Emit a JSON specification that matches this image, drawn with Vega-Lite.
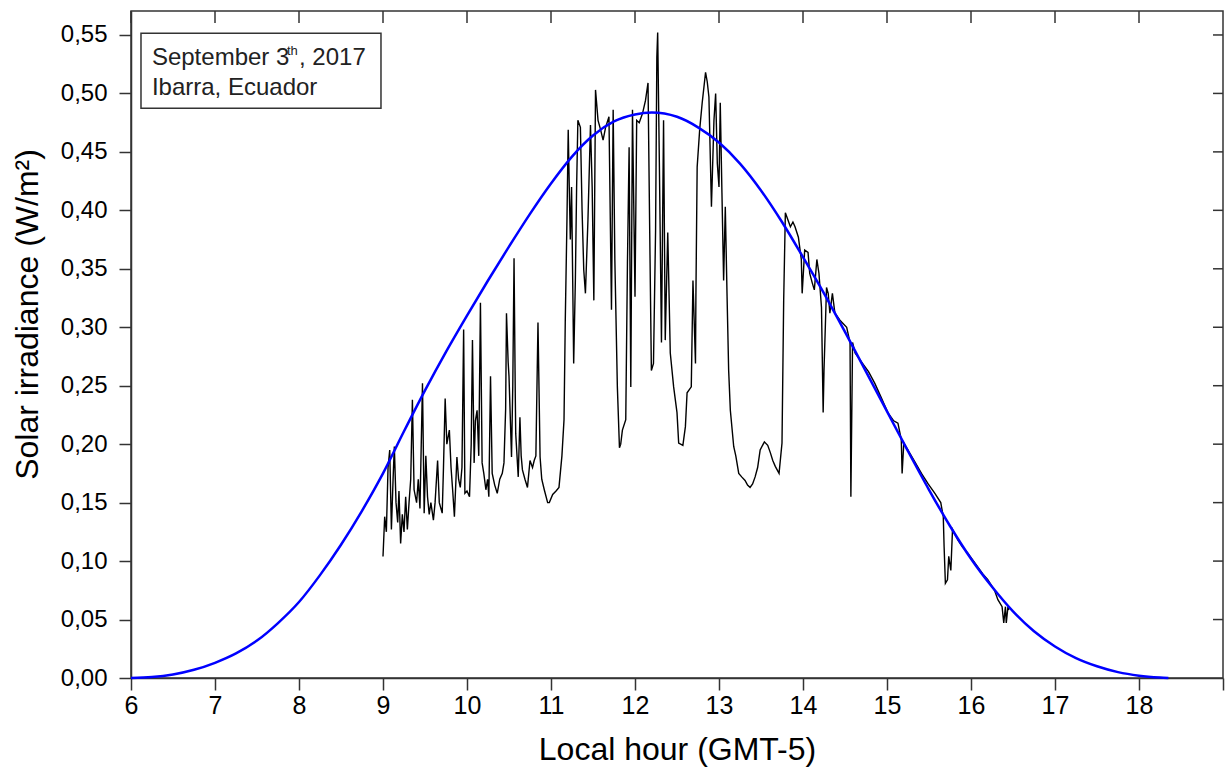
{
"$schema": "https://vega.github.io/schema/vega-lite/v6.json",
"width": 1092, "height": 667,
"autosize": "none",
"padding": {"left": 131, "top": 11, "right": 2, "bottom": 91},
"background": "white",
"config": {"view": {"stroke": "#333333", "strokeWidth": 1.5}, "font": "Liberation Sans"},
"datasets": {
"xticks": [{"hour":6},{"hour":7},{"hour":8},{"hour":9},{"hour":10},{"hour":11},{"hour":12},{"hour":13},{"hour":14},{"hour":15},{"hour":16},{"hour":17},{"hour":18}],
"yticks": [{"irradiance":0.05},{"irradiance":0.1},{"irradiance":0.15},{"irradiance":0.2},{"irradiance":0.25},{"irradiance":0.3},{"irradiance":0.35},{"irradiance":0.4},{"irradiance":0.45},{"irradiance":0.5},{"irradiance":0.55}],
"measured": [
{"hour":9.00,"irradiance":0.104},{"hour":9.02,"irradiance":0.138},{"hour":9.04,"irradiance":0.125},{"hour":9.06,"irradiance":0.180},{"hour":9.08,"irradiance":0.195},{"hour":9.10,"irradiance":0.127},{"hour":9.12,"irradiance":0.170},{"hour":9.135,"irradiance":0.198},{"hour":9.155,"irradiance":0.150},{"hour":9.175,"irradiance":0.133},{"hour":9.19,"irradiance":0.160},{"hour":9.21,"irradiance":0.115},{"hour":9.23,"irradiance":0.140},{"hour":9.25,"irradiance":0.125},{"hour":9.27,"irradiance":0.155},{"hour":9.29,"irradiance":0.127},{"hour":9.31,"irradiance":0.150},{"hour":9.33,"irradiance":0.170},{"hour":9.35,"irradiance":0.238},{"hour":9.37,"irradiance":0.161},{"hour":9.40,"irradiance":0.150},{"hour":9.42,"irradiance":0.170},{"hour":9.44,"irradiance":0.145},{"hour":9.47,"irradiance":0.252},{"hour":9.49,"irradiance":0.141},{"hour":9.51,"irradiance":0.190},{"hour":9.53,"irradiance":0.155},{"hour":9.55,"irradiance":0.140},{"hour":9.57,"irradiance":0.150},{"hour":9.60,"irradiance":0.135},{"hour":9.62,"irradiance":0.150},{"hour":9.65,"irradiance":0.186},{"hour":9.67,"irradiance":0.150},{"hour":9.705,"irradiance":0.141},{"hour":9.72,"irradiance":0.180},{"hour":9.74,"irradiance":0.239},{"hour":9.76,"irradiance":0.200},{"hour":9.79,"irradiance":0.212},{"hour":9.81,"irradiance":0.180},{"hour":9.83,"irradiance":0.160},{"hour":9.85,"irradiance":0.138},{"hour":9.88,"irradiance":0.189},{"hour":9.90,"irradiance":0.170},{"hour":9.92,"irradiance":0.163},{"hour":9.94,"irradiance":0.180},{"hour":9.96,"irradiance":0.298},{"hour":9.975,"irradiance":0.158},{"hour":10.00,"irradiance":0.160},{"hour":10.03,"irradiance":0.155},{"hour":10.05,"irradiance":0.200},{"hour":10.065,"irradiance":0.289},{"hour":10.085,"irradiance":0.184},{"hour":10.10,"irradiance":0.220},{"hour":10.12,"irradiance":0.229},{"hour":10.14,"irradiance":0.190},{"hour":10.16,"irradiance":0.321},{"hour":10.18,"irradiance":0.184},{"hour":10.20,"irradiance":0.175},{"hour":10.225,"irradiance":0.161},{"hour":10.245,"irradiance":0.170},{"hour":10.26,"irradiance":0.155},{"hour":10.28,"irradiance":0.258},{"hour":10.30,"irradiance":0.175},{"hour":10.33,"irradiance":0.165},{"hour":10.36,"irradiance":0.158},{"hour":10.39,"irradiance":0.170},{"hour":10.42,"irradiance":0.175},{"hour":10.44,"irradiance":0.184},{"hour":10.46,"irradiance":0.230},{"hour":10.47,"irradiance":0.312},{"hour":10.49,"irradiance":0.270},{"hour":10.50,"irradiance":0.258},{"hour":10.53,"irradiance":0.189},{"hour":10.545,"irradiance":0.250},{"hour":10.56,"irradiance":0.359},{"hour":10.575,"irradiance":0.240},{"hour":10.58,"irradiance":0.209},{"hour":10.61,"irradiance":0.172},{"hour":10.63,"irradiance":0.223},{"hour":10.645,"irradiance":0.190},{"hour":10.66,"irradiance":0.178},{"hour":10.69,"irradiance":0.170},{"hour":10.72,"irradiance":0.163},{"hour":10.75,"irradiance":0.186},{"hour":10.78,"irradiance":0.180},{"hour":10.80,"irradiance":0.186},{"hour":10.82,"irradiance":0.190},{"hour":10.845,"irradiance":0.304},{"hour":10.87,"irradiance":0.189},{"hour":10.89,"irradiance":0.170},{"hour":10.92,"irradiance":0.161},{"hour":10.96,"irradiance":0.150},{"hour":10.98,"irradiance":0.150},{"hour":11.02,"irradiance":0.157},{"hour":11.06,"irradiance":0.160},{"hour":11.095,"irradiance":0.163},{"hour":11.13,"irradiance":0.190},{"hour":11.155,"irradiance":0.221},{"hour":11.17,"irradiance":0.306},{"hour":11.19,"irradiance":0.392},{"hour":11.205,"irradiance":0.469},{"hour":11.22,"irradiance":0.410},{"hour":11.23,"irradiance":0.375},{"hour":11.245,"irradiance":0.420},{"hour":11.26,"irradiance":0.330},{"hour":11.27,"irradiance":0.269},{"hour":11.29,"irradiance":0.340},{"hour":11.305,"irradiance":0.420},{"hour":11.32,"irradiance":0.477},{"hour":11.35,"irradiance":0.471},{"hour":11.37,"irradiance":0.400},{"hour":11.39,"irradiance":0.349},{"hour":11.41,"irradiance":0.329},{"hour":11.44,"irradiance":0.392},{"hour":11.47,"irradiance":0.473},{"hour":11.49,"irradiance":0.420},{"hour":11.51,"irradiance":0.323},{"hour":11.53,"irradiance":0.503},{"hour":11.56,"irradiance":0.477},{"hour":11.59,"irradiance":0.469},{"hour":11.62,"irradiance":0.460},{"hour":11.65,"irradiance":0.471},{"hour":11.69,"irradiance":0.480},{"hour":11.72,"irradiance":0.315},{"hour":11.74,"irradiance":0.486},{"hour":11.76,"irradiance":0.358},{"hour":11.79,"irradiance":0.249},{"hour":11.815,"irradiance":0.197},{"hour":11.83,"irradiance":0.200},{"hour":11.85,"irradiance":0.212},{"hour":11.89,"irradiance":0.221},{"hour":11.91,"irradiance":0.355},{"hour":11.93,"irradiance":0.454},{"hour":11.95,"irradiance":0.249},{"hour":11.97,"irradiance":0.486},{"hour":12.00,"irradiance":0.326},{"hour":12.02,"irradiance":0.477},{"hour":12.05,"irradiance":0.475},{"hour":12.09,"irradiance":0.483},{"hour":12.125,"irradiance":0.494},{"hour":12.155,"irradiance":0.509},{"hour":12.175,"irradiance":0.383},{"hour":12.195,"irradiance":0.263},{"hour":12.22,"irradiance":0.269},{"hour":12.245,"irradiance":0.383},{"hour":12.26,"irradiance":0.531},{"hour":12.27,"irradiance":0.552},{"hour":12.29,"irradiance":0.441},{"hour":12.315,"irradiance":0.287},{"hour":12.34,"irradiance":0.477},{"hour":12.36,"irradiance":0.289},{"hour":12.39,"irradiance":0.381},{"hour":12.42,"irradiance":0.278},{"hour":12.46,"irradiance":0.249},{"hour":12.50,"irradiance":0.227},{"hour":12.52,"irradiance":0.201},{"hour":12.57,"irradiance":0.199},{"hour":12.60,"irradiance":0.215},{"hour":12.62,"irradiance":0.244},{"hour":12.67,"irradiance":0.249},{"hour":12.69,"irradiance":0.340},{"hour":12.72,"irradiance":0.269},{"hour":12.725,"irradiance":0.326},{"hour":12.74,"irradiance":0.437},{"hour":12.77,"irradiance":0.469},{"hour":12.80,"irradiance":0.492},{"hour":12.84,"irradiance":0.518},{"hour":12.86,"irradiance":0.510},{"hour":12.88,"irradiance":0.497},{"hour":12.91,"irradiance":0.403},{"hour":12.94,"irradiance":0.477},{"hour":12.96,"irradiance":0.500},{"hour":12.98,"irradiance":0.440},{"hour":13.00,"irradiance":0.420},{"hour":13.015,"irradiance":0.492},{"hour":13.035,"irradiance":0.415},{"hour":13.055,"irradiance":0.340},{"hour":13.075,"irradiance":0.403},{"hour":13.095,"irradiance":0.330},{"hour":13.115,"irradiance":0.263},{"hour":13.135,"irradiance":0.229},{"hour":13.175,"irradiance":0.198},{"hour":13.20,"irradiance":0.190},{"hour":13.235,"irradiance":0.175},{"hour":13.27,"irradiance":0.172},{"hour":13.31,"irradiance":0.169},{"hour":13.34,"irradiance":0.165},{"hour":13.37,"irradiance":0.163},{"hour":13.40,"irradiance":0.166},{"hour":13.43,"irradiance":0.172},{"hour":13.46,"irradiance":0.180},{"hour":13.49,"irradiance":0.195},{"hour":13.54,"irradiance":0.202},{"hour":13.58,"irradiance":0.199},{"hour":13.61,"irradiance":0.193},{"hour":13.64,"irradiance":0.186},{"hour":13.67,"irradiance":0.181},{"hour":13.715,"irradiance":0.175},{"hour":13.75,"irradiance":0.201},{"hour":13.77,"irradiance":0.323},{"hour":13.79,"irradiance":0.398},{"hour":13.82,"irradiance":0.392},{"hour":13.85,"irradiance":0.386},{"hour":13.88,"irradiance":0.390},{"hour":13.905,"irradiance":0.386},{"hour":13.945,"irradiance":0.377},{"hour":13.98,"irradiance":0.358},{"hour":13.99,"irradiance":0.329},{"hour":14.02,"irradiance":0.366},{"hour":14.06,"irradiance":0.364},{"hour":14.08,"irradiance":0.346},{"hour":14.11,"irradiance":0.338},{"hour":14.135,"irradiance":0.332},{"hour":14.165,"irradiance":0.358},{"hour":14.19,"irradiance":0.346},{"hour":14.22,"irradiance":0.317},{"hour":14.24,"irradiance":0.227},{"hour":14.25,"irradiance":0.263},{"hour":14.28,"irradiance":0.334},{"hour":14.30,"irradiance":0.329},{"hour":14.32,"irradiance":0.312},{"hour":14.35,"irradiance":0.329},{"hour":14.38,"irradiance":0.312},{"hour":14.44,"irradiance":0.306},{"hour":14.52,"irradiance":0.300},{"hour":14.56,"irradiance":0.287},{"hour":14.57,"irradiance":0.155},{"hour":14.59,"irradiance":0.287},{"hour":14.62,"irradiance":0.278},{"hour":14.70,"irradiance":0.270},{"hour":14.78,"irradiance":0.262},{"hour":14.855,"irradiance":0.252},{"hour":14.93,"irradiance":0.240},{"hour":15.01,"irradiance":0.227},{"hour":15.08,"irradiance":0.220},{"hour":15.13,"irradiance":0.218},{"hour":15.17,"irradiance":0.204},{"hour":15.18,"irradiance":0.175},{"hour":15.20,"irradiance":0.201},{"hour":15.25,"irradiance":0.195},{"hour":15.33,"irradiance":0.185},{"hour":15.41,"irradiance":0.175},{"hour":15.49,"irradiance":0.166},{"hour":15.57,"irradiance":0.158},{"hour":15.64,"irradiance":0.150},{"hour":15.67,"irradiance":0.138},{"hour":15.68,"irradiance":0.112},{"hour":15.695,"irradiance":0.081},{"hour":15.72,"irradiance":0.084},{"hour":15.735,"irradiance":0.104},{"hour":15.76,"irradiance":0.092},{"hour":15.78,"irradiance":0.127},{"hour":15.845,"irradiance":0.118},{"hour":15.90,"irradiance":0.112},{"hour":15.96,"irradiance":0.107},{"hour":16.02,"irradiance":0.101},{"hour":16.08,"irradiance":0.095},{"hour":16.14,"irradiance":0.089},{"hour":16.20,"irradiance":0.084},{"hour":16.28,"irradiance":0.075},{"hour":16.32,"irradiance":0.067},{"hour":16.37,"irradiance":0.061},{"hour":16.39,"irradiance":0.047},{"hour":16.41,"irradiance":0.061},{"hour":16.42,"irradiance":0.047},{"hour":16.44,"irradiance":0.061},{"hour":16.45,"irradiance":0.058}
],
"model": [
{"hour":6.0,"irradiance":0},{"hour":6.25,"irradiance":0.0008},{"hour":6.5,"irradiance":0.003},{"hour":6.75,"irradiance":0.007},{"hour":7.0,"irradiance":0.013},{"hour":7.25,"irradiance":0.021},{"hour":7.5,"irradiance":0.032},{"hour":7.75,"irradiance":0.047},{"hour":8.0,"irradiance":0.065},{"hour":8.25,"irradiance":0.088},{"hour":8.5,"irradiance":0.114},{"hour":8.75,"irradiance":0.143},{"hour":9.0,"irradiance":0.175},{"hour":9.25,"irradiance":0.211},{"hour":9.5,"irradiance":0.246},{"hour":9.75,"irradiance":0.279},{"hour":10.0,"irradiance":0.310},{"hour":10.25,"irradiance":0.340},{"hour":10.5,"irradiance":0.369},{"hour":10.75,"irradiance":0.397},{"hour":11.0,"irradiance":0.423},{"hour":11.25,"irradiance":0.446},{"hour":11.5,"irradiance":0.464},{"hour":11.75,"irradiance":0.476},{"hour":12.0,"irradiance":0.482},{"hour":12.2,"irradiance":0.4836},{"hour":12.5,"irradiance":0.480},{"hour":12.75,"irradiance":0.471},{"hour":13.0,"irradiance":0.458},{"hour":13.25,"irradiance":0.440},{"hour":13.5,"irradiance":0.417},{"hour":13.75,"irradiance":0.390},{"hour":14.0,"irradiance":0.360},{"hour":14.25,"irradiance":0.329},{"hour":14.5,"irradiance":0.296},{"hour":14.75,"irradiance":0.262},{"hour":15.0,"irradiance":0.228},{"hour":15.25,"irradiance":0.194},{"hour":15.5,"irradiance":0.161},{"hour":15.75,"irradiance":0.130},{"hour":16.0,"irradiance":0.102},{"hour":16.25,"irradiance":0.078},{"hour":16.5,"irradiance":0.057},{"hour":16.75,"irradiance":0.040},{"hour":17.0,"irradiance":0.027},{"hour":17.25,"irradiance":0.017},{"hour":17.5,"irradiance":0.010},{"hour":17.75,"irradiance":0.005},{"hour":18.0,"irradiance":0.002},{"hour":18.25,"irradiance":0.0004},{"hour":18.35,"irradiance":0}
]
},
"layer": [
{
"data": {"name": "measured"},
"mark": {"type": "line", "color": "black", "strokeWidth": 1.4},
"encoding": {
"x": {"field": "hour", "type": "quantitative",
"scale": {"domain": [6, 19], "nice": false, "zero": false},
"axis": {"orient": "bottom", "values": [6,7,8,9,10,11,12,13,14,15,16,17,18,19],
"labelExpr": "datum.value == 19 ? '' : datum.label", "labelFlush": false,
"title": "Local hour (GMT-5)", "titleFontSize": 32, "titleFontWeight": "normal", "titleColor": "black", "titleFont": "Liberation Sans",
"labelFontSize": 25, "labelColor": "black", "labelFont": "Liberation Sans", "labelPadding": 3, "titlePadding": 16,
"tickSize": 12, "tickColor": "#333333", "tickWidth": 1.5, "domainColor": "#333333", "domainWidth": 1.5, "grid": false}},
"y": {"field": "irradiance", "type": "quantitative",
"scale": {"domain": [0, 0.5705], "nice": false, "zero": false},
"axis": {"orient": "left", "values": [0,0.05,0.1,0.15,0.2,0.25,0.3,0.35,0.4,0.45,0.5,0.55],
"labelExpr": "replace(format(datum.value, '.2f'), '.', ',')", "labelFlush": false,
"title": "Solar irradiance (W/m²)", "titleFontSize": 32, "titleFontWeight": "normal", "titleColor": "black", "titleFont": "Liberation Sans",
"titleY": 303,
"labelFontSize": 24, "labelColor": "black", "labelFont": "Liberation Sans", "labelPadding": 12, "titlePadding": 16,
"tickSize": 12, "tickColor": "#333333", "tickWidth": 1.5, "domainColor": "#333333", "domainWidth": 1.5, "grid": false}}
}
},
{
"data": {"name": "model"},
"mark": {"type": "line", "color": "#0000ff", "strokeWidth": 2.5, "interpolate": "monotone"},
"encoding": {
"x": {"field": "hour", "type": "quantitative", "axis": null},
"y": {"field": "irradiance", "type": "quantitative", "axis": null}
}
},
{
"data": {"name": "xticks"},
"mark": {"type": "rule", "color": "#333333", "strokeWidth": 1.5},
"encoding": {
"x": {"field": "hour", "type": "quantitative", "axis": null},
"y": {"datum": 0.5705, "type": "quantitative", "axis": null},
"y2": {"datum": 0.5602}
}
},
{
"data": {"name": "yticks"},
"mark": {"type": "rule", "color": "#333333", "strokeWidth": 1.5},
"encoding": {
"y": {"field": "irradiance", "type": "quantitative", "axis": null},
"x": {"datum": 19, "type": "quantitative", "axis": null},
"x2": {"datum": 18.881}
}
},
{
"data": {"values": [{}]},
"mark": {"type": "rect", "fill": "white", "stroke": "#333333", "strokeWidth": 1.5},
"encoding": {
"x": {"datum": 6.119, "type": "quantitative", "axis": null},
"x2": {"datum": 8.976},
"y": {"datum": 0.5515, "type": "quantitative", "axis": null},
"y2": {"datum": 0.4874}
}
},
{
"data": {"values": [{}]},
"mark": {"type": "text", "align": "left", "baseline": "alphabetic", "fontSize": 24, "font": "Liberation Sans", "color": "#222222"},
"encoding": {
"x": {"datum": 6.249, "type": "quantitative", "axis": null},
"y": {"datum": 0.5241, "type": "quantitative", "axis": null},
"text": {"value": "September 3"}
}
},
{
"data": {"values": [{}]},
"mark": {"type": "text", "align": "left", "baseline": "alphabetic", "fontSize": 13, "font": "Liberation Sans", "color": "#222222"},
"encoding": {
"x": {"datum": 7.857, "type": "quantitative", "axis": null},
"y": {"datum": 0.5327, "type": "quantitative", "axis": null},
"text": {"value": "th"}
}
},
{
"data": {"values": [{}]},
"mark": {"type": "text", "align": "left", "baseline": "alphabetic", "fontSize": 24, "font": "Liberation Sans", "color": "#222222"},
"encoding": {
"x": {"datum": 8.0, "type": "quantitative", "axis": null},
"y": {"datum": 0.5241, "type": "quantitative", "axis": null},
"text": {"value": ", 2017"}
}
},
{
"data": {"values": [{}]},
"mark": {"type": "text", "align": "left", "baseline": "alphabetic", "fontSize": 24, "font": "Liberation Sans", "color": "#222222"},
"encoding": {
"x": {"datum": 6.249, "type": "quantitative", "axis": null},
"y": {"datum": 0.4990, "type": "quantitative", "axis": null},
"text": {"value": "Ibarra, Ecuador"}
}
}
],
"resolve": {"axis": {"x": "independent", "y": "independent"}}
}
